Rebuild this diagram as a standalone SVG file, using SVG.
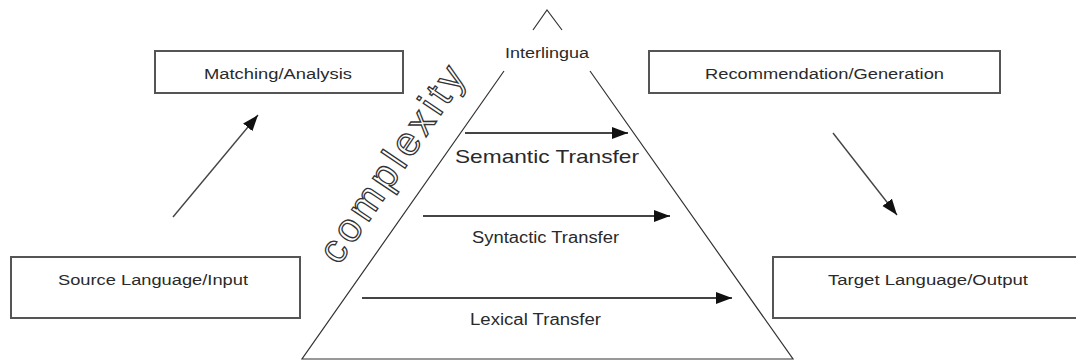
<svg xmlns="http://www.w3.org/2000/svg" width="1076" height="363" viewBox="0 0 1076 363">
<defs>
<style>
.box{fill:#fff;stroke:#555;stroke-width:2}
.lbl{font-family:"Liberation Sans",Arial,sans-serif;fill:#2a2a2a;text-anchor:middle}
.tri{fill:none;stroke:#333;stroke-width:1.2}
.arr{fill:none;stroke:#444;stroke-width:2;marker-end:url(#ah)}
.darr{fill:none;stroke:#444;stroke-width:1.4;marker-end:url(#ah)}
</style>
<marker id="ah" markerUnits="userSpaceOnUse" markerWidth="18" markerHeight="14" refX="16" refY="6" orient="auto">
<path d="M0,0 L16,6 L0,12 z" fill="#111"/>
</marker>
</defs>
<rect width="1076" height="363" fill="#fff"/>
<g id="pyramid">
<path class="tri" d="M533,30 L547,10 L562,30 M504,71 L302,359 L793,359 L590,71"/>
<text class="lbl" x="547" y="57.5" font-size="15.5" textLength="84" lengthAdjust="spacingAndGlyphs">Interlingua</text>
</g>
<g id="matching">
<rect class="box" x="155" y="51" width="248" height="42"/>
<text class="lbl" x="278" y="79" font-size="15.5" textLength="148" lengthAdjust="spacingAndGlyphs">Matching/Analysis</text>
</g>
<g id="recommendation">
<rect class="box" x="649" y="51" width="351" height="42"/>
<text class="lbl" x="824.5" y="79" font-size="15.5" textLength="239" lengthAdjust="spacingAndGlyphs">Recommendation/Generation</text>
</g>
<g id="source">
<rect class="box" x="11" y="257" width="289" height="61"/>
<text class="lbl" x="153" y="285" font-size="15.5" textLength="190" lengthAdjust="spacingAndGlyphs">Source Language/Input</text>
</g>
<g id="target">
<rect class="box" x="773" y="257" width="310" height="61"/>
<text class="lbl" x="928" y="285" font-size="15.5" textLength="200" lengthAdjust="spacingAndGlyphs">Target Language/Output</text>
</g>
<g id="semantic">
<text class="lbl" x="547" y="163" font-size="19" textLength="184" lengthAdjust="spacingAndGlyphs">Semantic Transfer</text>
</g>
<g id="syntactic">
<text class="lbl" x="545.5" y="243" font-size="16" textLength="147" lengthAdjust="spacingAndGlyphs">Syntactic Transfer</text>
</g>
<g id="lexical">
<text class="lbl" x="535.5" y="324.5" font-size="16" textLength="131" lengthAdjust="spacingAndGlyphs">Lexical Transfer</text>
</g>
<g id="complexity">
<text x="0" y="0" transform="translate(339,266) rotate(-56)" font-family="'Liberation Sans',Arial,sans-serif" font-size="40" fill="#fff" stroke="#333" stroke-width="1.3" textLength="228" lengthAdjust="spacing">complexity</text>
</g>
<g id="connectors">
<line class="darr" x1="173" y1="217" x2="258" y2="115"/>
<line class="darr" x1="833" y1="133" x2="897" y2="215"/>
<line class="arr" x1="465" y1="133" x2="628" y2="133"/>
<line class="arr" x1="423" y1="216" x2="670" y2="216"/>
<line class="arr" x1="362" y1="298" x2="732" y2="298"/>
</g>
</svg>
